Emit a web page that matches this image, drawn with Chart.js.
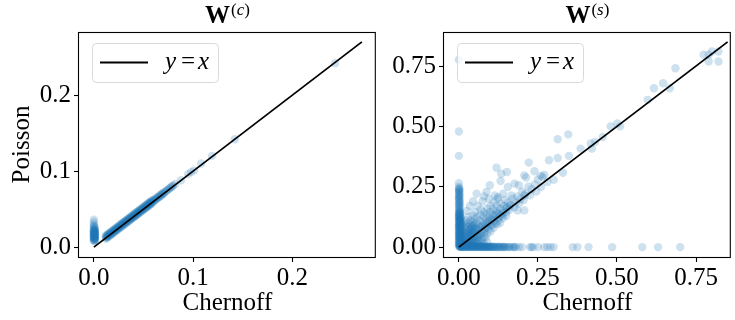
<!DOCTYPE html>
<html>
<head>
<meta charset="utf-8">
<script src="https://cdn.jsdelivr.net/npm/chart.js@4.4.0/dist/chart.umd.min.js"></script>
<style>
  body { margin: 0; background: #fff; }
  #wrap { position: relative; width: 735px; height: 320px; }
  canvas { position: absolute; top: 0; }
</style>
</head>
<body>
<div id="wrap">
  <canvas id="chartC" width="380" height="320" style="left:0"></canvas>
  <canvas id="chartS" width="355" height="320" style="left:380px"></canvas>
</div>
<script>
// W(c): Chernoff (x) vs Poisson (y)
let cStack = [
  [0, 0.008], [0.001, 0.009], [0, 0.01], [0.001, 0.011], [0, 0.012], [0.001, 0.013],
  [0, 0.014], [0.001, 0.015], [0, 0.016], [0.001, 0.017], [0, 0.018], [0.001, 0.019],
  [0, 0.02], [0.001, 0.021], [0, 0.022], [0.001, 0.023], [0, 0.025], [0, 0.027],
  [0, 0.03], [0, 0.033], [0, 0.036], [0.001, 0.0095], [0, 0.0115], [0.001, 0.0135],
  [0, 0.0155], [0.001, 0.0175], [0, 0.0195], [0.001, 0.0215],
  [0, 0.0085], [0.001, 0.0105], [0, 0.0125], [0.001, 0.0145], [0, 0.0165], [0.001, 0.0185],
  [0, 0.0205], [0.001, 0.0225], [0, 0.024], [0.001, 0.026], [0, 0.028], [0.001, 0.012],
  [0, 0.015], [0.001, 0.018], [0, 0.021]
];
let cBand = [
  [0.012, 0.011], [0.012, 0.013], [0.012, 0.015], [0.014, 0.013], [0.014, 0.015], [0.014, 0.017],
  [0.016, 0.015], [0.016, 0.017], [0.016, 0.019], [0.018, 0.017], [0.018, 0.019], [0.018, 0.021],
  [0.02, 0.019], [0.02, 0.021], [0.02, 0.023], [0.022, 0.021], [0.022, 0.023], [0.022, 0.025],
  [0.024, 0.023], [0.024, 0.025], [0.024, 0.027], [0.026, 0.025], [0.026, 0.027], [0.026, 0.029],
  [0.028, 0.027], [0.028, 0.029], [0.028, 0.031], [0.03, 0.029], [0.03, 0.031], [0.03, 0.033],
  [0.032, 0.031], [0.032, 0.033], [0.032, 0.035], [0.034, 0.033], [0.034, 0.035], [0.034, 0.037],
  [0.036, 0.035], [0.036, 0.037], [0.036, 0.039], [0.038, 0.037], [0.038, 0.039], [0.038, 0.041],
  [0.04, 0.039], [0.04, 0.041], [0.04, 0.043], [0.042, 0.041], [0.042, 0.043], [0.042, 0.045],
  [0.044, 0.043], [0.044, 0.045], [0.044, 0.047], [0.046, 0.045], [0.046, 0.047], [0.046, 0.049],
  [0.048, 0.047], [0.048, 0.049], [0.048, 0.051], [0.05, 0.049], [0.05, 0.051], [0.05, 0.053],
  [0.052, 0.051], [0.052, 0.053], [0.052, 0.055], [0.054, 0.053], [0.054, 0.055], [0.054, 0.057],
  [0.056, 0.055], [0.056, 0.057], [0.056, 0.059], [0.058, 0.057], [0.058, 0.059], [0.058, 0.061],
  [0.06, 0.06], [0.06, 0.062], [0.062, 0.062], [0.062, 0.064], [0.064, 0.064], [0.064, 0.066],
  [0.066, 0.066], [0.066, 0.068], [0.068, 0.068], [0.068, 0.07], [0.07, 0.07], [0.07, 0.072],
  [0.072, 0.073], [0.074, 0.075], [0.076, 0.077], [0.078, 0.079], [0.08, 0.081], [0.082, 0.083],
  [0.013, 0.014], [0.017, 0.018], [0.021, 0.022], [0.025, 0.026], [0.029, 0.03], [0.033, 0.034],
  [0.037, 0.038], [0.041, 0.042], [0.045, 0.046], [0.049, 0.05], [0.053, 0.054], [0.057, 0.058]
];
let cCore = [
  [0.013, 0.0125], [0.013, 0.0155], [0.015, 0.0145], [0.015, 0.0175], [0.017, 0.0165], [0.017, 0.0195],
  [0.019, 0.0185], [0.019, 0.0215], [0.021, 0.0205], [0.021, 0.0235], [0.023, 0.0225], [0.023, 0.0255],
  [0.025, 0.0245], [0.025, 0.0275], [0.027, 0.0265], [0.027, 0.0295], [0.029, 0.0285], [0.029, 0.0315],
  [0.031, 0.0305], [0.031, 0.0335], [0.033, 0.0325], [0.033, 0.0355], [0.035, 0.0345], [0.035, 0.0375],
  [0.037, 0.0365], [0.037, 0.0395], [0.039, 0.0385], [0.039, 0.0415], [0.041, 0.0405], [0.041, 0.0435],
  [0.043, 0.0425], [0.043, 0.0455], [0.045, 0.0445], [0.045, 0.0475], [0.047, 0.0465], [0.047, 0.0495],
  [0.049, 0.0485], [0.049, 0.0515], [0.051, 0.0505], [0.051, 0.0535], [0.053, 0.0525], [0.053, 0.0555],
  [0.055, 0.0545], [0.055, 0.0575], [0.057, 0.0565], [0.057, 0.0595], [0.059, 0.0585], [0.059, 0.0615],
  [0.061, 0.0615], [0.063, 0.0635], [0.065, 0.0655], [0.067, 0.0675], [0.069, 0.0695], [0.071, 0.0715],
  [0.073, 0.074], [0.075, 0.076], [0.077, 0.078], [0.079, 0.08]
];
let cTail = [
  [0.0877, 0.088], [0.095, 0.096], [0.098, 0.0987], [0.101, 0.101], [0.108, 0.11],
  [0.119, 0.12], [0.142, 0.142], [0.243, 0.242]
];

// W(s)
let sStack = [
  [0, 0.002], [0.002, 0.006], [0, 0.01], [0.003, 0.014], [0.001, 0.018], [0, 0.022],
  [0.002, 0.026], [0, 0.03], [0.003, 0.034], [0.001, 0.038], [0, 0.042], [0.002, 0.046],
  [0, 0.05], [0.003, 0.054], [0.001, 0.058], [0, 0.062], [0.002, 0.066], [0, 0.07],
  [0.003, 0.074], [0.001, 0.078], [0, 0.082], [0.002, 0.086], [0, 0.09], [0.003, 0.094],
  [0.001, 0.098], [0, 0.102], [0.002, 0.106], [0, 0.11], [0.003, 0.114], [0.001, 0.118],
  [0, 0.122], [0.002, 0.126], [0, 0.13], [0.002, 0.134], [0.001, 0.138], [0, 0.142],
  [0.002, 0.15], [0, 0.158], [0.001, 0.166], [0, 0.174], [0.002, 0.182], [0, 0.19],
  [0.001, 0.198], [0, 0.206], [0.002, 0.214], [0, 0.222], [0.001, 0.23], [0, 0.238],
  [0.001, 0.244], [0, 0.25], [0, 0.265], [0, 0.378], [0, 0.479], [0, 0.776],
  [0.004, 0.004], [0.005, 0.012], [0.004, 0.02], [0.005, 0.028], [0.004, 0.036], [0.005, 0.044],
  [0.004, 0.052], [0.005, 0.06], [0.004, 0.068], [0.005, 0.076], [0.004, 0.084], [0.005, 0.092],
  [0.004, 0.1], [0.005, 0.108], [0.004, 0.116], [0.005, 0.124], [0.003, 0.146], [0.001, 0.154],
  [0.003, 0.162], [0.002, 0.17], [0.001, 0.178], [0.003, 0.186], [0.002, 0.194], [0.001, 0.202],
  [0.002, 0.21], [0.001, 0.218], [0.002, 0.226], [0.001, 0.234], [0.002, 0.24]
];
let sFloor = [
  [0.003, 0.001], [0.006, 0], [0.009, 0.002], [0.012, 0], [0.015, 0.001], [0.018, 0],
  [0.021, 0.002], [0.024, 0], [0.027, 0.001], [0.03, 0], [0.033, 0.002], [0.036, 0],
  [0.039, 0.001], [0.042, 0], [0.045, 0.002], [0.048, 0], [0.051, 0.001], [0.054, 0],
  [0.057, 0.002], [0.06, 0], [0.063, 0.001], [0.066, 0], [0.069, 0.001], [0.072, 0],
  [0.075, 0.002], [0.078, 0], [0.081, 0.001], [0.084, 0], [0.087, 0.001], [0.09, 0],
  [0.093, 0.001], [0.096, 0], [0.1, 0.001], [0.104, 0], [0.108, 0], [0.112, 0.001],
  [0.116, 0], [0.12, 0], [0.125, 0], [0.13, 0], [0.135, 0], [0.14, 0], [0.145, 0],
  [0.15, 0], [0.156, 0], [0.162, 0], [0.17, 0], [0.175, 0], [0.18, 0], [0.19, 0],
  [0.2, 0], [0.225, 0], [0.23, 0], [0.235, 0], [0.25, 0], [0.27, 0], [0.28, 0],
  [0.29, 0], [0.3, 0], [0.36, 0], [0.375, 0], [0.41, 0], [0.485, 0], [0.58, 0],
  [0.63, 0], [0.7, 0],
  [0.005, 0.004], [0.01, 0.003], [0.016, 0.004], [0.022, 0.003], [0.028, 0.004], [0.034, 0.003],
  [0.04, 0.004], [0.046, 0.003], [0.052, 0.004], [0.058, 0.003], [0.064, 0.003], [0.07, 0.002],
  [0.08, 0.003], [0.09, 0.002], [0.1, 0.002], [0.11, 0.002], [0.125, 0.001], [0.14, 0.001],
  [0.16, 0.001], [0.175, 0.001]
];
let sCloud = [
  [0.006, 0.012], [0.008, 0.025], [0.007, 0.04], [0.009, 0.055], [0.008, 0.07], [0.01, 0.09],
  [0.012, 0.018], [0.013, 0.033], [0.012, 0.048], [0.014, 0.062], [0.015, 0.08], [0.016, 0.1],
  [0.017, 0.012], [0.018, 0.027], [0.019, 0.042], [0.02, 0.057], [0.021, 0.073], [0.022, 0.09],
  [0.023, 0.11], [0.024, 0.02], [0.025, 0.035], [0.026, 0.05], [0.027, 0.066], [0.028, 0.082],
  [0.029, 0.1], [0.03, 0.125], [0.031, 0.015], [0.032, 0.03], [0.033, 0.045], [0.034, 0.06],
  [0.035, 0.075], [0.036, 0.092], [0.037, 0.11], [0.038, 0.022], [0.039, 0.038], [0.04, 0.054],
  [0.041, 0.07], [0.042, 0.086], [0.043, 0.102], [0.044, 0.13], [0.045, 0.03], [0.046, 0.046],
  [0.047, 0.062], [0.048, 0.078], [0.049, 0.095], [0.05, 0.115], [0.051, 0.145],
  [0.01, 0.004], [0.015, 0.007], [0.02, 0.01], [0.025, 0.008], [0.03, 0.012], [0.035, 0.01],
  [0.04, 0.018], [0.045, 0.014], [0.05, 0.022], [0.055, 0.018], [0.06, 0.028], [0.065, 0.024],
  [0.07, 0.035], [0.075, 0.03], [0.08, 0.045], [0.085, 0.04], [0.09, 0.055], [0.1, 0.065],
  [0.11, 0.08], [0.12, 0.095], [0.13, 0.1], [0.14, 0.12], [0.15, 0.13], [0.05, 0.008],
  [0.06, 0.012], [0.07, 0.015], [0.08, 0.012], [0.09, 0.02],
  [0.052, 0.06], [0.054, 0.08], [0.056, 0.1], [0.058, 0.125], [0.06, 0.045], [0.062, 0.07],
  [0.064, 0.09], [0.066, 0.11], [0.068, 0.135], [0.07, 0.155], [0.072, 0.06], [0.074, 0.085],
  [0.076, 0.105], [0.078, 0.125], [0.08, 0.145], [0.082, 0.075], [0.084, 0.095], [0.086, 0.115],
  [0.088, 0.135], [0.09, 0.16], [0.092, 0.085], [0.094, 0.105], [0.096, 0.125], [0.098, 0.145],
  [0.1, 0.17], [0.102, 0.095], [0.104, 0.115], [0.106, 0.135], [0.108, 0.155], [0.11, 0.185],
  [0.112, 0.11], [0.115, 0.13], [0.118, 0.15], [0.12, 0.172], [0.122, 0.2], [0.125, 0.12],
  [0.128, 0.14], [0.13, 0.16], [0.133, 0.18], [0.136, 0.13], [0.14, 0.15], [0.143, 0.17],
  [0.146, 0.195], [0.15, 0.145], [0.153, 0.165], [0.156, 0.185], [0.16, 0.155], [0.165, 0.175],
  [0.17, 0.2], [0.175, 0.165], [0.18, 0.185], [0.185, 0.21], [0.19, 0.18], [0.195, 0.2],
  [0.2, 0.23], [0.205, 0.195], [0.21, 0.22], [0.22, 0.25], [0.225, 0.215], [0.23, 0.24],
  [0.24, 0.26], [0.245, 0.23], [0.25, 0.28], [0.26, 0.25], [0.27, 0.3], [0.28, 0.27],
  [0.025, 0.15], [0.035, 0.17], [0.045, 0.19], [0.06, 0.17], [0.075, 0.19], [0.08, 0.21],
  [0.095, 0.2]
];
let sCore = [
  [0.006, 0.003], [0.002, 0.008], [0.006, 0.013], [0.001, 0.016], [0.006, 0.023], [0.002, 0.028],
  [0.006, 0.033], [0.001, 0.04], [0.006, 0.043], [0.002, 0.048], [0.006, 0.053], [0.001, 0.056],
  [0.006, 0.063], [0.002, 0.068], [0.006, 0.073], [0.001, 0.08], [0.006, 0.083], [0.002, 0.088],
  [0.006, 0.093], [0.001, 0.096], [0.006, 0.103], [0.002, 0.108], [0.006, 0.113], [0.001, 0.12],
  [0.006, 0.123], [0.002, 0.128], [0.004, 0.133], [0.001, 0.136], [0.004, 0.14], [0.002, 0.145],
  [0.004, 0.002], [0.008, 0.001], [0.013, 0.003], [0.019, 0.001], [0.025, 0.003], [0.031, 0.001],
  [0.037, 0.003], [0.043, 0.001], [0.049, 0.003], [0.055, 0.001], [0.061, 0.003], [0.067, 0.001],
  [0.073, 0.003], [0.079, 0.001], [0.085, 0.002], [0.091, 0.001], [0.097, 0.002], [0.103, 0.001],
  [0.11, 0.001], [0.118, 0.001], [0.128, 0.002], [0.138, 0.001], [0.148, 0.001],
  [0.008, 0.008], [0.012, 0.006], [0.01, 0.015], [0.014, 0.01], [0.018, 0.016], [0.016, 0.024],
  [0.022, 0.014], [0.024, 0.03], [0.02, 0.04], [0.028, 0.02], [0.03, 0.045], [0.026, 0.06],
  [0.034, 0.028], [0.036, 0.05], [0.032, 0.07], [0.04, 0.035], [0.042, 0.06], [0.038, 0.08],
  [0.046, 0.04], [0.048, 0.065], [0.044, 0.09], [0.052, 0.035], [0.054, 0.05], [0.056, 0.075],
  [0.058, 0.04], [0.062, 0.055], [0.066, 0.08], [0.068, 0.05], [0.072, 0.07], [0.076, 0.09],
  [0.08, 0.06], [0.085, 0.08], [0.09, 0.1], [0.095, 0.075], [0.1, 0.11], [0.105, 0.09],
  [0.11, 0.12], [0.115, 0.1], [0.12, 0.14], [0.125, 0.11], [0.13, 0.13], [0.14, 0.14],
  [0.15, 0.16], [0.16, 0.17]
];
let sTail = [
  [0.056, 0.221], [0.0875, 0.228], [0.098, 0.256], [0.114, 0.214], [0.155, 0.249],
  [0.176, 0.263], [0.19, 0.256], [0.124, 0.207], [0.14, 0.221], [0.166, 0.214],
  [0.207, 0.214], [0.186, 0.152], [0.207, 0.152], [0.119, 0.329], [0.132, 0.274],
  [0.134, 0.304], [0.152, 0.311], [0.207, 0.297], [0.221, 0.35], [0.239, 0.314],
  [0.259, 0.295], [0.285, 0.36], [0.3125, 0.447], [0.346, 0.467], [0.3125, 0.369],
  [0.348, 0.378], [0.329, 0.308], [0.3, 0.279], [0.265, 0.29], [0.2125, 0.288],
  [0.385, 0.408], [0.417, 0.429], [0.421, 0.408], [0.431, 0.436], [0.455, 0.456],
  [0.48, 0.5], [0.501, 0.512], [0.51, 0.5], [0.597, 0.61], [0.617, 0.658],
  [0.646, 0.679], [0.667, 0.658], [0.685, 0.741], [0.774, 0.797], [0.79, 0.797],
  [0.8, 0.81], [0.79, 0.769], [0.821, 0.769], [0.821, 0.81]
];

let cLine = [[0, 0], [0.27, 0.27]];
let sLine = [[0, 0], [0.85, 0.85]];
let cTicks = [0, 0.1, 0.2];
let sTicks = [0, 0.25, 0.5, 0.75];

const SERIF = "'Liberation Serif', 'Times New Roman', serif";
Chart.defaults.font.family = SERIF;
Chart.defaults.font.size = 25;
Chart.defaults.color = "#000";

function pts(arr) {
  return arr.map((p) => ({ x: p[0], y: p[1] }));
}

// frame, title and legend box drawn on top of the plot
const decorPlugin = {
  id: "decor",
  afterDraw(chart, args, opts) {
    const ctx = chart.ctx;
    const a = chart.chartArea;
    ctx.save();
    ctx.strokeStyle = "#000";
    ctx.lineWidth = 1.1;
    ctx.strokeRect(a.left - 0.5, a.top + 0.5, a.right - a.left, a.bottom - a.top);

    // title: bold W with superscript (c)/(s)
    ctx.fillStyle = "#000";
    ctx.textBaseline = "alphabetic";
    ctx.font = "bold 25px " + SERIF;
    const wW = ctx.measureText("W").width;
    ctx.font = "17px " + SERIF;
    const pW = ctx.measureText("(").width;
    ctx.font = "italic 17px " + SERIF;
    const lW = ctx.measureText(opts.sup).width;
    const total = wW + pW * 2 + lW + 1;
    let tx = (a.left + a.right) / 2 - total / 2;
    ctx.font = "bold 25px " + SERIF;
    ctx.fillText("W", tx, 23);
    tx += wW + 1;
    ctx.font = "17px " + SERIF;
    ctx.fillText("(", tx, 15);
    tx += pW;
    ctx.font = "italic 17px " + SERIF;
    ctx.fillText(opts.sup, tx, 15);
    tx += lW;
    ctx.font = "17px " + SERIF;
    ctx.fillText(")", tx, 15);

    // legend
    const lx = a.left + 13, ly = a.top + 11, lw = 126, lh = 39;
    ctx.beginPath();
    ctx.roundRect(lx + 0.5, ly + 0.5, lw, lh, 4);
    ctx.fillStyle = "rgba(255,255,255,0.8)";
    ctx.fill();
    ctx.strokeStyle = "#d9d9d9";
    ctx.lineWidth = 1;
    ctx.stroke();
    const my = ly + lh / 2;
    ctx.beginPath();
    ctx.moveTo(lx + 8, my);
    ctx.lineTo(lx + 56, my);
    ctx.strokeStyle = "#000";
    ctx.lineWidth = 1.8;
    ctx.stroke();
    ctx.fillStyle = "#000";
    ctx.textBaseline = "middle";
    ctx.font = "italic 25px " + SERIF;
    ctx.fillText("y", lx + 73, my);
    ctx.font = "25px " + SERIF;
    ctx.fillText("=", lx + 89, my);
    ctx.font = "italic 25px " + SERIF;
    ctx.fillText("x", lx + 106, my);
    ctx.restore();
  },
};

function makeChart(id, groups, line, ticks, digits, xr, yr, yWidth, padRight, sup, yTitle) {
  const datasets = [
    {
      type: "line",
      data: pts(line),
      borderColor: "#000",
      borderWidth: 1.8,
      pointRadius: 0,
    },
  ];
  groups.forEach((g) => {
    datasets.push({
      type: "scatter",
      data: pts(g),
      backgroundColor: "rgba(31,119,180,0.22)",
      borderWidth: 0,
      pointRadius: 4.2,
    });
  });
  const axis = (range, title, isX) => ({
    type: "linear",
    min: range[0],
    max: range[1],
    afterBuildTicks: (s) => {
      s.ticks = ticks.map((v) => ({ value: v }));
    },
    afterFit: (s) => {
      if (isX) s.height = 63;
      else s.width = yWidth;
    },
    border: { display: false },
    grid: {
      drawOnChartArea: false,
      drawTicks: true,
      tickLength: 5,
      tickColor: "#000",
      tickWidth: 1.1,
    },
    ticks: {
      padding: isX ? 1 : 3,
      callback: (v) => v.toFixed(digits),
    },
    title: {
      display: title !== "",
      text: title,
      font: { size: 25, lineHeight: 1 },
      padding: isX ? { top: 0, bottom: 4 } : { top: 10, bottom: 0 },
    },
  });
  return new Chart(document.getElementById(id), {
    type: "scatter",
    data: { datasets: datasets },
    plugins: [decorPlugin],
    options: {
      responsive: false,
      animation: false,
      devicePixelRatio: 1,
      layout: { padding: { top: 32, right: padRight, left: 0, bottom: 0 } },
      plugins: {
        legend: { display: false },
        tooltip: { enabled: false },
        decor: { sup: sup },
      },
      scales: {
        x: axis(xr, "Chernoff", true),
        y: axis(yr, yTitle, false),
      },
    },
  });
}

makeChart("chartC", [cStack, cBand, cCore, cTail], cLine, cTicks, 1,
  [-0.015, 0.284], [-0.013, 0.283], 79, 2, "c", "Poisson");
makeChart("chartS", [sStack, sFloor, sCloud, sCore, sTail], sLine, sTicks, 2,
  [-0.047, 0.86], [-0.041, 0.891], 64, 1, "s", "");
</script>
</body>
</html>
